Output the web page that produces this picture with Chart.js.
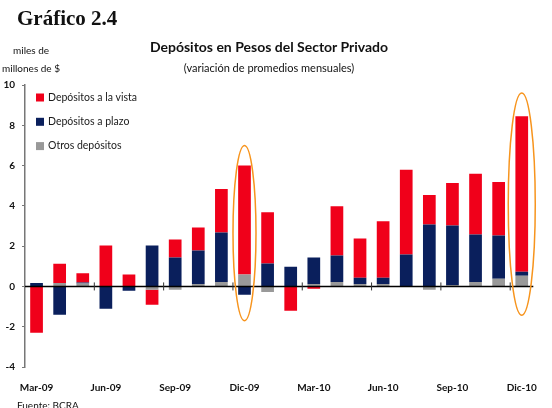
<!DOCTYPE html>
<html>
<head>
<meta charset="utf-8">
<script src="https://cdn.jsdelivr.net/npm/chart.js@4/dist/chart.umd.min.js"></script>
<style>
  body { margin: 0; background: #fff; }
  #wrap { position: relative; width: 552px; height: 408px; overflow: hidden; font-family: Lato, sans-serif; color: #111; }
  #chart { position: absolute; left: 0; top: 0; }
  .txt { position: absolute; white-space: nowrap; }
  #fig { left: 17px; top: 6px; font: bold 21px "Liberation Serif", serif; }
  #title { left: 0; width: 538px; top: 38px; text-align: center; font-weight: bold; font-size: 14px; }
  #sub { left: 0; width: 538px; top: 61px; text-align: center; font-size: 11px; }
  #unit1 { left: 13px; top: 44px; font-size: 10px; }
  #unit2 { left: 2px; top: 62px; font-size: 10px; }
  #src { left: 17px; top: 399px; font-size: 10px; }
</style>
</head>
<body>
<div id="wrap">
  <canvas id="chart" width="552" height="408"></canvas>
  <div class="txt" id="fig">Gráfico 2.4</div>
  <div class="txt" id="title">Depósitos en Pesos del Sector Privado</div>
  <div class="txt" id="sub">(variación de promedios mensuales)</div>
  <div class="txt" id="unit1">miles de</div>
  <div class="txt" id="unit2">millones de $</div>
  <div class="txt" id="src">Fuente: BCRA</div>
</div>
<script>
const months = ["Mar-09", "Abr-09", "May-09", "Jun-09", "Jul-09", "Ago-09", "Sep-09", "Oct-09",
  "Nov-09", "Dic-09", "Ene-10", "Feb-10", "Mar-10", "Abr-10", "May-10", "Jun-10", "Jul-10",
  "Ago-10", "Sep-10", "Oct-10", "Nov-10", "Dic-10"];

const otros = [0, 0.17, 0.15, 0, 0, -0.16, -0.16, 0.12, 0.22, 0.59, -0.28,
  0, 0.12, 0.22, 0.12, 0.12, 0, -0.16, 0.07, 0.22, 0.38, 0.53];
const plazo = [0.17, -1.41, 0.05, -1.11, -0.21, 2.03, 1.44, 1.66, 2.46, -0.41, 1.14,
  0.98, 1.31, 1.31, 0.31, 0.31, 1.58, 3.08, 2.96, 2.36, 2.15, 0.2];
const vista = [-2.3, 0.96, 0.45, 2.03, 0.59, -0.75, 0.89, 1.15, 2.16, 5.41, 2.54,
  -1.21, -0.11, 2.45, 1.95, 2.8, 4.21, 1.46, 2.11, 3.01, 2.66, 7.72];

const yTicks = [-4, -2, 0, 2, 4, 6, 8, 10];

// months circled in the original (index, lower and upper value of the ellipse)
const highlights = [
  { index: 9, from: -1.7, to: 7.0 },
  { index: 21, from: -1.43, to: 9.6 },
];

const RED = "#f0001a";
const NAVY = "#0a1f5c";
const GREY = "#999999";

// zero line + small ticks every quarter
const zeroLine = {
  id: "zeroLine",
  afterDatasetsDraw(chart) {
    const { ctx, chartArea, scales } = chart;
    const x = scales.x, y = scales.y;
    const y0 = y.getPixelForValue(0);
    ctx.save();
    ctx.strokeStyle = "#000";
    ctx.lineWidth = 1.5;
    ctx.beginPath();
    ctx.moveTo(chartArea.left, y0);
    ctx.lineTo(chartArea.right, y0);
    ctx.stroke();
    ctx.lineWidth = 1;
    ctx.strokeStyle = "#333";
    for (let i = 3; i < months.length; i += 3) {
      const px = (x.getPixelForValue(i - 1) + x.getPixelForValue(i)) / 2;
      ctx.beginPath();
      ctx.moveTo(px, y0 - 4);
      ctx.lineTo(px, y0 + 4);
      ctx.stroke();
    }
    ctx.restore();
  },
};

const ellipses = {
  id: "ellipses",
  afterDatasetsDraw(chart, args, opts) {
    const { ctx, scales } = chart;
    ctx.save();
    ctx.strokeStyle = "#f7941d";
    ctx.lineWidth = 1.5;
    highlights.forEach((h, k) => {
      const cx = scales.x.getPixelForValue(h.index);
      const top = scales.y.getPixelForValue(h.to);
      const bot = scales.y.getPixelForValue(h.from);
      ctx.beginPath();
      ctx.ellipse(cx, (top + bot) / 2, opts.rx[k], (bot - top) / 2, 0, 0, Math.PI * 2);
      ctx.stroke();
    });
    ctx.restore();
  },
};

// legend inside the plot, top left
const boxLegend = {
  id: "boxLegend",
  afterDraw(chart) {
    const { ctx, chartArea } = chart;
    const items = chart.data.datasets.slice().reverse();
    ctx.save();
    ctx.font = "10.5px Lato";
    ctx.textBaseline = "middle";
    items.forEach((ds, k) => {
      const cy = chartArea.top + 12.5 + k * 24.3;
      ctx.fillStyle = ds.backgroundColor;
      ctx.fillRect(chartArea.left + 11, cy - 4, 8, 8);
      ctx.fillStyle = "#1a1a1a";
      ctx.fillText(ds.label, chartArea.left + 23, cy);
    });
    ctx.restore();
  },
};

new Chart(document.getElementById("chart"), {
  type: "bar",
  data: {
    labels: months,
    datasets: [
      { label: "Otros depósitos", data: otros, backgroundColor: GREY },
      { label: "Depósitos a plazo", data: plazo, backgroundColor: NAVY },
      { label: "Depósitos a la vista", data: vista, backgroundColor: RED },
    ],
  },
  options: {
    responsive: false,
    animation: false,
    categoryPercentage: 1,
    barPercentage: 0.55,
    layout: { padding: { top: 85, left: 0, right: 7, bottom: 11 } },
    plugins: {
      legend: { display: false },
      tooltip: { enabled: false },
      ellipses: { rx: [11.5, 13.5] },
    },
    scales: {
      x: {
        stacked: true,
        grid: { display: false, drawTicks: false },
        border: { display: false },
        afterFit: (s) => { s.height = 30; },
        ticks: {
          autoSkip: false,
          maxRotation: 0,
          padding: 15,
          color: "#111",
          font: { family: "Lato", size: 10, weight: "bold" },
          callback: (v, i) => (i % 3 === 0 ? months[i] : ""),
        },
      },
      y: {
        stacked: true,
        min: yTicks[0],
        max: yTicks[yTicks.length - 1],
        afterFit: (s) => { s.width = 25; },
        afterBuildTicks: (s) => { s.ticks = yTicks.map((v) => ({ value: v })); },
        border: { display: true, color: "#777", width: 1.5 },
        grid: { drawOnChartArea: false, drawTicks: true, tickLength: 3, tickColor: "#777" },
        ticks: {
          padding: 7,
          color: "#111",
          font: { family: "Lato", size: 10, weight: "bold" },
        },
      },
    },
  },
  plugins: [zeroLine, ellipses, boxLegend],
});
</script>
</body>
</html>
